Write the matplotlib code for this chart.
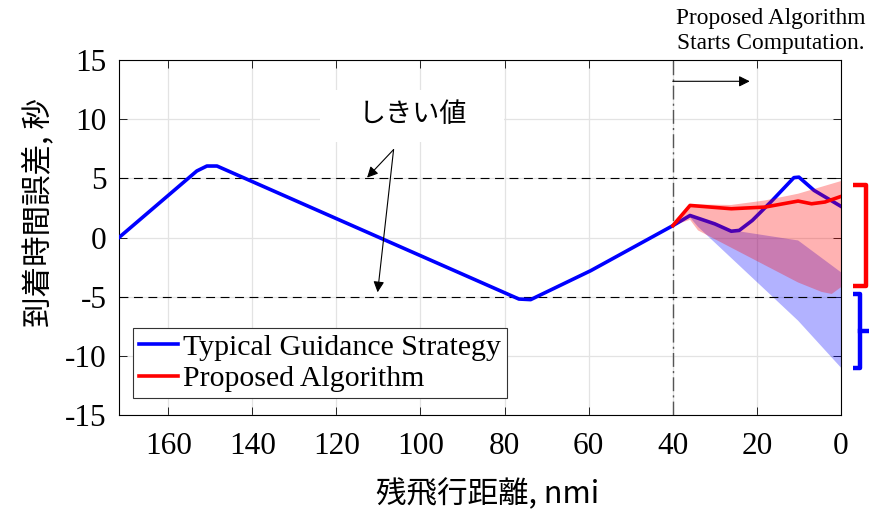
import numpy as np
import matplotlib
matplotlib.use("Agg")
import matplotlib.pyplot as plt
import matplotlib as mpl
from matplotlib.lines import Line2D
from matplotlib.patches import Rectangle
import matplotlib.transforms as mtransforms

mpl.rcParams.update({
    "font.family": ["Liberation Serif", "DejaVu Serif"],
    "axes.unicode_minus": False,
    "axes.linewidth": 0.8,
})
JP = ["Noto Sans CJK JP", "DejaVu Sans"]

# typical guidance strategy (remaining distance nmi, arrival time error s)
typ_x = [171.7, 153.2, 150.8, 148.4, 76.6, 73.8, 59.5, 40.0, 35.9, 30.0, 26.1, 24.2, 21.1, 16.7, 11.2, 10.0, 6.4, 0.0]
typ_y = [0.0, 5.62, 6.04, 6.04, -5.20, -5.25, -2.80, 1.0, 1.86, 1.15, 0.53, 0.60, 1.44, 3.0, 5.06, 5.10, 3.98, 2.63]

# proposed algorithm
prop_x = [40.0, 35.9, 26.1, 18.1, 10.2, 7.0, 3.8, 0.0]
prop_y = [1.0, 2.71, 2.43, 2.57, 3.08, 2.85, 3.0, 3.47]

# spread of the typical strategy
typ_hi_x = [40.0, 35.9, 30.0, 26.1, 23.9, 10.2, 0.0]
typ_hi_y = [1.0, 1.86, 1.15, 0.60, 0.50, -0.25, -2.94]
typ_lo_x = [40.0, 35.9, 34.0, 10.2, 0.0]
typ_lo_y = [1.0, 1.70, 0.90, -7.03, -11.0]

# spread of the proposed algorithm
prop_hi_x = [40.0, 35.9, 26.1, 18.1, 10.2, 0.0]
prop_hi_y = [1.0, 2.80, 2.75, 3.13, 3.70, 4.77]
prop_lo_x = [40.0, 35.9, 34.0, 10.2, 4.6, 2.2, 0.0]
prop_lo_y = [1.0, 1.50, 0.60, -3.80, -4.60, -4.77, -4.20]

threshold = 5
start_x = 40

x_ticks = [160, 140, 120, 100, 80, 60, 40, 20, 0]
y_ticks = [15, 10, 5, 0, -5, -10, -15]

fig = plt.figure(figsize=(8.69, 5.11), dpi=100)
ax = fig.add_axes([119/869, 1-415/511, 722/869, 355/511])

ax.set_xlim(171.7, 0)
ax.set_ylim(-15, 15)
ax.set_xticks(x_ticks)
ax.set_yticks(y_ticks)
ax.tick_params(direction="in", top=True, right=True, length=6, width=0.6,
               labelsize=22.5)
ax.tick_params(axis="x", pad=12)
ax.tick_params(axis="y", pad=9)
ax.grid(True, color="#e3e3e3", lw=0.9)
ax.set_axisbelow(True)

# label box
ax.add_patch(Rectangle((123.8, 8.05), -43.6, 4.4, facecolor="white", edgecolor="none", zorder=1.5))

# bands and lines
ax.fill(typ_hi_x + typ_lo_x[::-1], typ_hi_y + typ_lo_y[::-1], color=(0, 0, 1, 0.3), lw=0, zorder=2)
ax.plot(typ_x, typ_y, color="#0000ff", lw=2.6, zorder=3, label="Typical Guidance Strategy")
ax.fill(prop_hi_x + prop_lo_x[::-1], prop_hi_y + prop_lo_y[::-1], color=(1, 0, 0, 0.3), lw=0, zorder=4)
ax.plot(prop_x, prop_y, color="#ff0000", lw=2.6, zorder=5, label="Proposed Algorithm")

for th in (threshold, -threshold):
    ax.axhline(th, color="black", lw=0.8, ls=(0, (8, 5)), zorder=2.5)
ax.axvline(start_x, color="#555555", lw=1.0, ls=(0, (10, 3, 1.5, 3)), zorder=2.5)

ax.text(101.8, 10.4, "しきい値", family=JP, fontsize=19.5, ha="center", va="center", zorder=6)
arr = dict(arrowstyle="-|>", lw=0.8, color="black", mutation_scale=16, shrinkA=0, shrinkB=0)
ax.annotate("", xy=(112.7, 5.06), xytext=(106.4, 7.43), arrowprops=arr, zorder=6)
ax.annotate("", xy=(110.2, -4.63), xytext=(106.4, 7.43), arrowprops=arr, zorder=6)

ax.annotate("", xy=(21.7, 13.2), xytext=(start_x, 13.2), arrowprops=arr, zorder=6)
fig.text(771/869, 1-31/511, "Proposed Algorithm\nStarts Computation.", fontsize=16.8,
         ha="center", va="center", linespacing=1.3)

ax.set_xlabel("残飛行距離, nmi", family=JP, fontsize=22, labelpad=8)
ax.xaxis.set_label_coords(0.51, -0.18)
ax.set_ylabel("到着時間誤差, 秒", family=JP, fontsize=22)
ax.yaxis.set_label_coords(-0.09, 0.57)

leg = ax.legend(loc="lower left", bbox_to_anchor=(0.019, 0.048), borderaxespad=0,
                fontsize=21.5, handlelength=1.3, handletextpad=0.2, labelspacing=0.15,
                borderpad=0.2, fancybox=False, framealpha=1, edgecolor="#333333")
leg.get_frame().set_linewidth(0.8)
leg.set_zorder(7)

# braces at right side
bt = mtransforms.blended_transform_factory(ax.transAxes, ax.transData)
red_brace_x = [1.0166, 1.035, 1.035, 1.0166]
red_brace_y = [4.41, 4.41, -4.07, -4.07]
blue_brace_x = [1.0166, 1.026, 1.026, 1.0166]
blue_brace_y = [-4.75, -4.75, -11.0, -11.0]
for bx, by, c in ((red_brace_x, red_brace_y, "#ff0000"), (blue_brace_x, blue_brace_y, "#0000ff")):
    ax.add_line(Line2D(bx, by, transform=bt, color=c, lw=3.2, clip_on=False,
                       solid_joinstyle="round", solid_capstyle="butt"))
ax.add_line(Line2D([1.026, 1.04], [-7.9, -7.9], transform=bt, color="#0000ff", lw=3.2, clip_on=False))

fig.savefig("out.png", dpi=100)
